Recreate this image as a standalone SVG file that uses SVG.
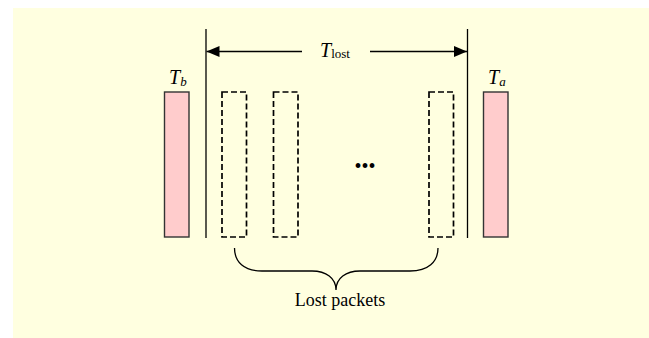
<svg xmlns="http://www.w3.org/2000/svg" width="649" height="338" viewBox="0 0 649 338">
  <style>
    .bar { fill: #ffcccc; stroke: #333333; stroke-width: 1.4; }
    .lost { fill: none; stroke: #000000; stroke-width: 1.7; stroke-dasharray: 6 3; }
    .rule { stroke: #000000; stroke-width: 1.3; fill: none; }
    .lbl { font-family: "Liberation Serif", "Times New Roman", serif; fill: #000000; }
    .it { font-style: italic; }
  </style>
  <defs>
    <marker id="head" viewBox="0 0 13 11" refX="13" refY="5.5" markerWidth="13" markerHeight="11" markerUnits="userSpaceOnUse" orient="auto">
      <path d="M0,0 L13,5.5 L0,11 Z" fill="#000000"/>
    </marker>
  </defs>

  <!-- panel background -->
  <rect x="13" y="8" width="636" height="330" fill="#ffffe0"/>

  <!-- packet received before the gap -->
  <g id="before">
    <rect class="bar" x="164.5" y="92" width="24.5" height="145"/>
    <text class="lbl it" x="169" y="83.5" font-size="20">T<tspan font-size="13" dy="2">b</tspan></text>
  </g>

  <!-- lost packets -->
  <g id="lost1"><rect class="lost" x="222" y="92" width="24.5" height="145"/></g>
  <g id="lost2"><rect class="lost" x="273.5" y="92" width="24.5" height="145"/></g>
  <g id="dots"><text class="lbl" x="365" y="173" font-size="20" text-anchor="middle">•••</text></g>
  <g id="lost3"><rect class="lost" x="429" y="92" width="24.5" height="145"/></g>

  <!-- packet received after the gap -->
  <g id="after">
    <rect class="bar" x="483.5" y="92" width="24.5" height="145"/>
    <text class="lbl it" x="488" y="83.5" font-size="20">T<tspan font-size="13" dy="2">a</tspan></text>
  </g>

  <!-- interval markers and dimension arrows -->
  <g id="connectors">
    <line class="rule" x1="206" y1="29" x2="206" y2="238"/>
    <line class="rule" x1="467.5" y1="29" x2="467.5" y2="238"/>
    <line class="rule" x1="302" y1="51.5" x2="206.5" y2="51.5" marker-end="url(#head)"/>
    <line class="rule" x1="370" y1="51.5" x2="467" y2="51.5" marker-end="url(#head)"/>
    <path class="rule" d="M234.5,248 C234.5,262 244,271 262,271 L312,271 C326,271 336,278 336,290 C336,278 346,271 360,271 L410,271 C428,271 438,262 438,248"/>
  </g>

  <g id="tlost">
    <text class="lbl it" x="320" y="57" font-size="20">T<tspan class="lbl" font-style="normal" font-size="13" dy="0.5">lost</tspan></text>
  </g>

  <g id="caption">
    <text class="lbl" x="340" y="306" font-size="18" text-anchor="middle">Lost packets</text>
  </g>
</svg>
